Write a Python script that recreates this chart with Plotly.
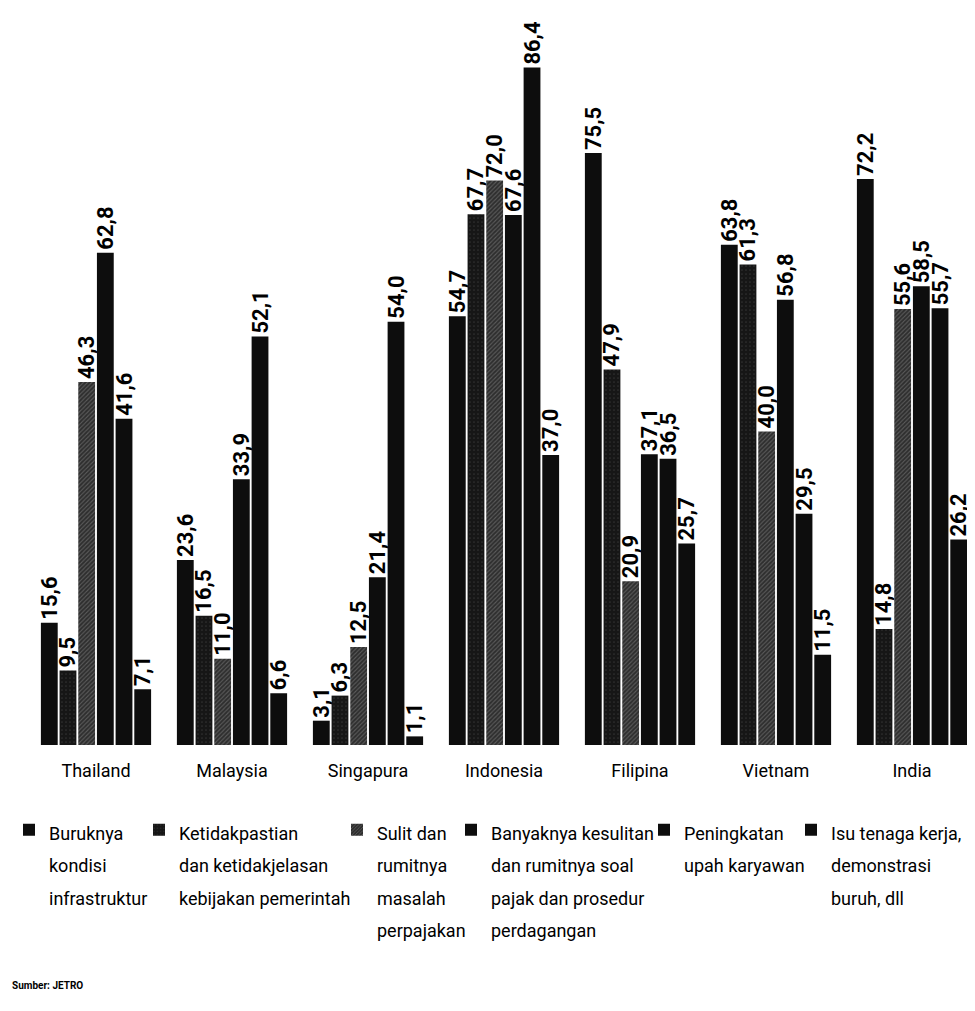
import plotly.graph_objects as go

countries = ["Thailand", "Malaysia", "Singapura", "Indonesia", "Filipina", "Vietnam", "India"]
infrastruktur = [15.6, 23.6, 3.1, 54.7, 75.5, 63.8, 72.2]
ketidakpastian = [9.5, 16.5, 6.3, 67.7, 47.9, 61.3, 14.8]
perpajakan = [46.3, 11.0, 12.5, 72.0, 20.9, 40.0, 55.6]
prosedur = [62.8, 33.9, 21.4, 67.6, 37.1, 56.8, 58.5]
upah = [41.6, 52.1, 54.0, 86.4, 36.5, 29.5, 55.7]
tenaga_kerja = [7.1, 6.6, 1.1, 37.0, 25.7, 11.5, 26.2]

series_names = [
    ["Buruknya", "kondisi", "infrastruktur"],
    ["Ketidakpastian", "dan ketidakjelasan", "kebijakan pemerintah"],
    ["Sulit dan", "rumitnya", "masalah", "perpajakan"],
    ["Banyaknya kesulitan", "dan rumitnya soal", "pajak dan prosedur", "perdagangan"],
    ["Peningkatan", "upah karyawan"],
    ["Isu tenaga kerja,", "demonstrasi", "buruh, dll"],
]
series_values = [infrastruktur, ketidakpastian, perpajakan, prosedur, upah, tenaga_kerja]

FONT = "Roboto, Liberation Sans, sans-serif"
OFF = 8                      # page body margin in the browser
W, H = 975 - OFF, 1011 - OFF
PLOT_BOTTOM = 745 - OFF      # baseline of the bars (figure px)

styles = [
    dict(color="#0d0d0d"),
    dict(color="#161616", pattern=dict(shape=".", fgcolor="#4a4a4a", size=4, solidity=0.15)),
    dict(color="#2e2e2e", pattern=dict(shape="/", fgcolor="#8a8a8a", size=3, solidity=0.35)),
    dict(color="#0d0d0d"),
    dict(color="#0d0d0d"),
    dict(color="#0d0d0d"),
]

# text start x (screen px) for each legend entry
legend_text_x = [48, 178, 376, 490, 683, 830]

fig = go.Figure()
for i, (names, vals) in enumerate(zip(series_names, series_values)):
    lname = "legend" if i == 0 else f"legend{i+1}"
    label = "<br>".join(f"<span style='font-size:18px'>{t}</span>" for t in names)
    fig.add_trace(go.Bar(
        x=countries, y=vals, name=label,
        marker=dict(**styles[i], line=dict(width=0)),
        texttemplate="%{y:.1f}", textposition="outside", textangle=-90,
        constraintext="none", cliponaxis=False,
        textfont=dict(family=FONT, size=22, color="#000000", weight="bold"),
        legend=lname, showlegend=True,
    ))

layout_legends = {}
for i, tx in enumerate(legend_text_x):
    lname = "legend" if i == 0 else f"legend{i+1}"
    layout_legends[lname] = dict(
        x=(tx - 47) / W, xanchor="left",
        y=(PLOT_BOTTOM - 799) / PLOT_BOTTOM, yanchor="top",
        font=dict(family=FONT, size=25, color="#000000"),
        bgcolor="rgba(0,0,0,0)", valign="top",
        itemclick=False, itemdoubleclick=False,
    )

px_per_cat = 136.0
x0_px = 96 - OFF
fig.update_layout(
    width=W, height=H,
    margin=dict(l=0, r=0, t=0, b=H - PLOT_BOTTOM, autoexpand=False),
    paper_bgcolor="#ffffff", plot_bgcolor="#ffffff",
    separators=",.",
    barmode="group", bargap=0.176, bargroupgap=0.1,
    showlegend=True,
    xaxis=dict(
        range=[-x0_px / px_per_cat, (W - x0_px) / px_per_cat],
        showgrid=False, zeroline=False, showline=False,
        ticks="outside", ticklen=9, tickcolor="rgba(0,0,0,0)",
        tickfont=dict(family=FONT, size=18, color="#000000"),
        fixedrange=True,
    ),
    yaxis=dict(range=[0, PLOT_BOTTOM / 7.84], visible=False, fixedrange=True),
    annotations=[dict(
        text="<b>Sumber: JETRO</b>", xref="paper", yref="paper",
        x=(10 - OFF) / W, y=(PLOT_BOTTOM - (985 - OFF)) / PLOT_BOTTOM,
        xanchor="left", yanchor="middle", showarrow=False,
        font=dict(family=FONT, size=10, color="#000000"),
    )],
    **layout_legends,
)

fig.write_html("out.html")
